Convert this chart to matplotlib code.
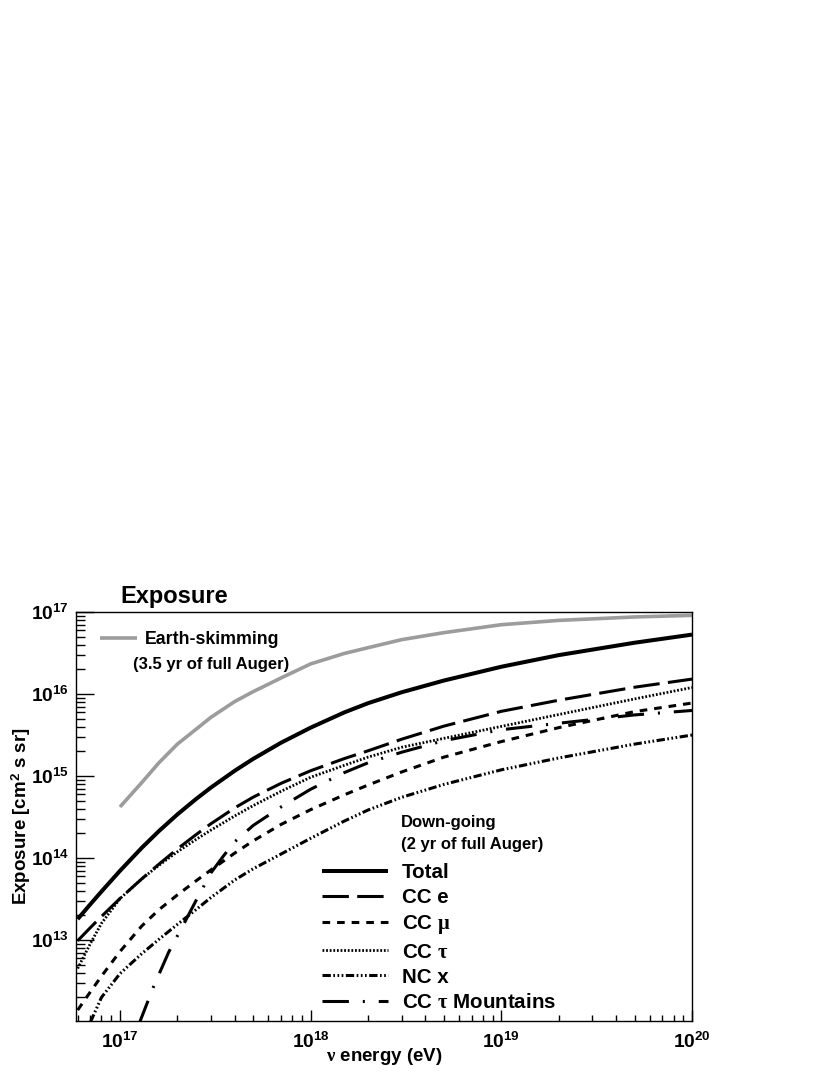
import numpy as np
import matplotlib
matplotlib.use("Agg")
import matplotlib.pyplot as plt
from matplotlib.ticker import LogLocator, FuncFormatter, NullFormatter

plt.rcParams['font.family'] = ['Liberation Sans', 'DejaVu Sans']
plt.rcParams['font.weight'] = 'bold'
plt.rcParams['mathtext.fontset'] = 'custom'
plt.rcParams['mathtext.rm'] = 'Liberation Serif'
plt.rcParams['mathtext.it'] = 'Liberation Serif:italic'
plt.rcParams['mathtext.bf'] = 'Liberation Sans:bold'
plt.rcParams['lines.scale_dashes'] = False

# ---------------- data ----------------
energy_down = [6e16, 7e16, 8e16, 1e17, 1.3e17, 1.6e17, 2e17, 2.5e17, 3e17, 4e17,
               5e17, 7e17, 1e18, 1.5e18, 2e18, 3e18, 5e18, 1e19, 2e19, 5e19, 1e20]
total = [1.8e13, 2.74e13, 3.91e13, 6.98e13, 1.33e14, 2.13e14, 3.4e14, 5.22e14, 7.24e14, 1.16e15,
         1.62e15, 2.55e15, 3.89e15, 5.96e15, 7.73e15, 1.05e16, 1.46e16, 2.15e16, 2.98e16, 4.22e16, 5.3e16]
cc_e = [9.8e12, 1.42e13, 1.94e13, 3.21e13, 5.56e13, 8.41e13, 1.29e14, 1.92e14, 2.62e14, 4.09e14,
        5.53e14, 8.15e14, 1.16e15, 1.63e15, 2.03e15, 2.81e15, 4.06e15, 6.15e15, 8.4e15, 1.21e16, 1.52e16]
cc_tau = [4.5e12, 9.1e12, 1.6e13, 3.2e13, 5.56e13, 8.15e13, 1.19e14, 1.68e14, 2.19e14, 3.26e14,
          4.36e14, 6.52e14, 9.66e14, 1.35e15, 1.7e15, 2.24e15, 2.88e15, 4.03e15, 5.62e15, 8.71e15, 1.2e16]
cc_mu = [1.4e12, 2.34e12, 3.63e12, 7.24e12, 1.48e13, 2.34e13, 3.55e13, 5.25e13, 7.16e13, 1.15e14,
         1.62e14, 2.57e14, 3.89e14, 5.89e14, 7.76e14, 1.12e15, 1.7e15, 2.63e15, 3.89e15, 6.1e15, 7.76e15]

energy_nc = [7e16, 8e16, 1e17, 1.3e17, 1.6e17, 2e17, 2.5e17, 3e17, 4e17, 5e17, 7e17,
             1e18, 1.5e18, 2e18, 3e18, 5e18, 1e19, 2e19, 5e19, 1e20]
nc_x = [1.0e12, 2.0e12, 3.9e12, 6.8e12, 1.02e13, 1.55e13, 2.34e13, 3.3e13, 5.4e13, 7.4e13, 1.12e14,
        1.74e14, 2.82e14, 3.85e14, 5.5e14, 7.9e14, 1.19e15, 1.66e15, 2.45e15, 3.16e15]

energy_mt = [1.25e17, 1.5e17, 1.8e17, 2.2e17, 2.5e17, 3e17, 3.5e17, 4e17, 5e17, 7e17,
             1e18, 1.5e18, 2e18, 3e18, 5e18, 1e19, 2e19, 5e19, 1e20]
cc_tau_mountains = [9.1e11, 2.7e12, 7.1e12, 1.7e13, 3.0e13, 6.6e13, 1.07e14, 1.58e14, 2.5e14, 4.2e14,
                    6.9e14, 1.1e15, 1.45e15, 1.95e15, 2.7e15, 3.67e15, 4.4e15, 5.56e15, 6.3e15]

energy_es = [1e17, 1.3e17, 1.6e17, 2e17, 2.5e17, 3e17, 4e17, 5e17, 7e17, 1e18,
             1.5e18, 2e18, 3e18, 5e18, 1e19, 2e19, 5e19, 1e20]
earth_skimming = [4.2e14, 8.3e14, 1.45e15, 2.45e15, 3.7e15, 5.2e15, 8.1e15, 1.07e16, 1.57e16, 2.33e16,
                  3.12e16, 3.67e16, 4.6e16, 5.6e16, 7.0e16, 7.9e16, 8.7e16, 9.1e16]

labels = ['Total', 'CC e', r'CC $\mathrm{\mu}$', r'CC $\mathrm{\tau}$', 'NC x',
          r'CC $\mathrm{\tau}$ Mountains']

# ---------------- figure ----------------
W, H = 830, 1075
fig = plt.figure(figsize=(W / 100, H / 100), dpi=100)
ax = fig.add_axes([76 / W, 1 - 1021 / H, (692 - 76) / W, (1021 - 612) / H])

ax.set_xscale('log')
ax.set_yscale('log')

l_es, = ax.plot(energy_es, earth_skimming, color='#9c9c9c', lw=2.6, solid_capstyle='butt')
l_tot, = ax.plot(energy_down, total, color='black', lw=2.9, solid_capstyle='butt')
l_e, = ax.plot(energy_down, cc_e, color='black', lw=2.2, dashes=(19, 6), dash_capstyle='butt')
l_mu, = ax.plot(energy_down, cc_mu, color='black', lw=2.2, dashes=(5.5, 5), dash_capstyle='butt')
l_tau, = ax.plot(energy_down, cc_tau, color='black', lw=2.0, dashes=(1.3, 1.3), dash_capstyle='butt')
l_nc, = ax.plot(energy_nc, nc_x, color='black', lw=2.2,
                dashes=(6, 1.8, 1.2, 1.8, 1.2, 1.8, 1.2, 1.8), dash_capstyle='butt')
l_mt, = ax.plot(energy_mt, cc_tau_mountains, color='black', lw=2.2,
                dashes=(19, 10, 1.5, 10), dash_capstyle='butt')

ax.set_xlim(5.88e16, 1e20)
ax.set_ylim(1.03e12, 1e17)

fmt = FuncFormatter(lambda v, p: r'$\mathbf{10^{%d}}$' % int(round(np.log10(v))))
for axis in (ax.xaxis, ax.yaxis):
    axis.set_major_locator(LogLocator(base=10, numticks=20))
    axis.set_minor_locator(LogLocator(base=10, subs=np.arange(2, 10), numticks=20))
    axis.set_major_formatter(fmt)
    axis.set_minor_formatter(NullFormatter())

ax.tick_params(axis='y', which='major', direction='in', length=13, width=1, labelsize=13.8, pad=5,
               right=False)
ax.tick_params(axis='y', which='minor', direction='in', length=6.5, width=1, right=False)
ax.tick_params(axis='x', which='major', direction='in', length=8, width=1, labelsize=13.8, pad=8,
               top=False)
ax.tick_params(axis='x', which='minor', direction='in', length=4.5, width=1, top=False)
for s in ax.spines.values():
    s.set_linewidth(1.0)

ax.set_xlabel(r'$\mathrm{\nu}$ energy (eV)', fontsize=13.5, fontweight='bold')
ax.xaxis.set_label_coords(0.5, -0.061)
ax.set_ylabel(r'Exposure [cm$^{\mathbf{2}}$ s sr]', fontsize=13.5, fontweight='bold')
ax.yaxis.set_label_coords(-0.069, 0.5)

fig.text(120 / W, 1 - 597 / H, 'Exposure', fontsize=17, fontweight='bold', ha='left', va='center')

# Earth-skimming legend
leg1 = ax.legend([l_es], ['Earth-skimming'], loc='center left',
                 bbox_to_anchor=(100 / W, 1 - 640 / H), bbox_transform=fig.transFigure,
                 frameon=False, fontsize=12.8, handlelength=2.1, handletextpad=0.45,
                 borderpad=0, borderaxespad=0)
ax.add_artist(leg1)
fig.text(133 / W, 1 - 665 / H, '(3.5 yr of full Auger)', fontsize=12, fontweight='bold',
         ha='left', va='center')

# Down-going legend
fig.text(401 / W, 1 - 823 / H, 'Down-going', fontsize=12, fontweight='bold', ha='left', va='center')
fig.text(401 / W, 1 - 845 / H, '(2 yr of full Auger)', fontsize=12, fontweight='bold',
         ha='left', va='center')
leg2 = ax.legend([l_tot, l_e, l_mu, l_tau, l_nc, l_mt], labels, loc='upper left',
                 bbox_to_anchor=(322 / W, 1 - 863 / H), bbox_transform=fig.transFigure,
                 frameon=False, fontsize=14.8, handlelength=3.2, handletextpad=0.68,
                 labelspacing=0.30, borderpad=0, borderaxespad=0)

fig.savefig('out.png', dpi=100)
